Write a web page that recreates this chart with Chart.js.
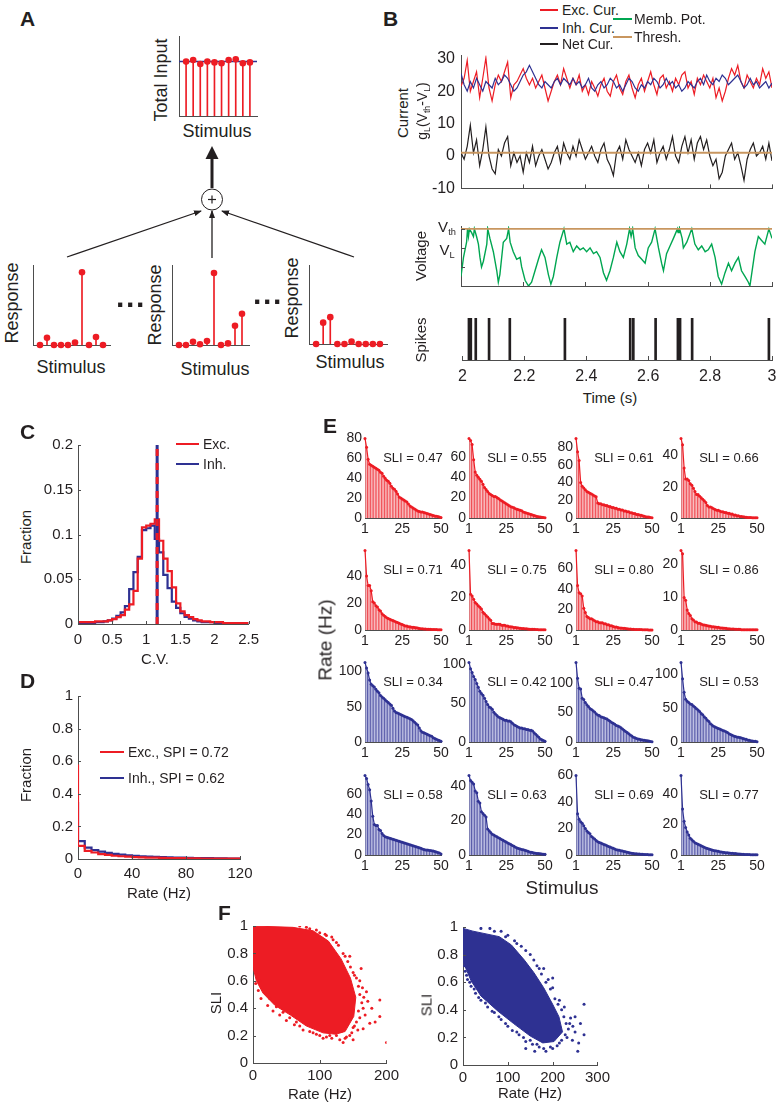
<!DOCTYPE html>
<html>
<head>
<meta charset="utf-8">
<script src="https://cdn.jsdelivr.net/npm/chart.js@4"></script>
<style>
  body { margin: 0; background: #fff; }
  #fig { position: relative; width: 779px; height: 1106px; overflow: hidden;
         font-family: "Liberation Sans", Arial, Helvetica, sans-serif; color: #231f20; }
  .t { position: absolute; white-space: nowrap; line-height: 1; }
  .t sub { font-size: 62%; vertical-align: -0.35em; line-height: 0; }
  .sw { position: absolute; height: 0; }
  canvas { position: absolute; }
</style>
</head>
<body>
<div id="fig">
  <svg width="779" height="1106" style="position:absolute;left:0;top:0">
    <defs>
      <marker id="ah" markerWidth="8" markerHeight="8" refX="7" refY="4" orient="auto" markerUnits="userSpaceOnUse">
        <path d="M0,1 L8,4 L0,7 z" fill="#231f20"/>
      </marker>
    </defs>
    <line x1="67" y1="257" x2="201" y2="211" stroke="#231f20" stroke-width="1.3" marker-end="url(#ah)"/>
    <line x1="212" y1="258" x2="212" y2="211" stroke="#231f20" stroke-width="1.3" marker-end="url(#ah)"/>
    <line x1="354" y1="257" x2="222" y2="211" stroke="#231f20" stroke-width="1.3" marker-end="url(#ah)"/>
    <circle cx="212" cy="199.5" r="10.5" fill="#fff" stroke="#231f20" stroke-width="1"/>
    <line x1="208" y1="199.5" x2="216" y2="199.5" stroke="#231f20" stroke-width="1.2"/>
    <line x1="212" y1="195.5" x2="212" y2="203.5" stroke="#231f20" stroke-width="1.2"/>
    <line x1="212" y1="188" x2="212" y2="157" stroke="#231f20" stroke-width="3"/>
    <polygon points="205.5,159 218.5,159 212,146" fill="#231f20"/>
  </svg>
</div>
<script>
// ---------- Panel A : stem plots ----------
const aStim = [1, 2, 3, 4, 5, 6, 7, 8, 9, 10];
const aTotal = [0.68, 0.70, 0.65, 0.68, 0.67, 0.66, 0.70, 0.71, 0.66, 0.67];
const aTotalMean = 0.68;
const aResp1 = [0, 0.09, 0, 0, 0, 0.03, 0.91, 0, 0.10, 0];
const aResp2 = [0, 0, 0.04, 0.01, 0.05, 0.90, 0, 0.02, 0.24, 0.39];
const aResp3 = [0, 0.27, 0.34, 0, 0, 0.03, 0, 0, 0, 0];

// ---------- Panel B : currents, voltage, spikes ----------
const bTime = Array.from({ length: 101 }, (_, i) => 2 + i * 0.01);
const bExc = [21.5,24,29.5,20,23,26,18,24,30.3,21, 17,22,25,23,26,29,18,22,23,25,
  27,24,22,24,21,23,25,21,17,20, 23,25,22,27,24,21,24,22,25,20,
  22,19,23,21,18.5,22,24,20,18.5,23, 25,21,19,23,25,21,18,22,24,20,
  23,26,22,19,24,25,21,23,20,24, 22,25,26,21,23,19,24,22,25,23,
  21,24,18,21,17,20,24,27,25,28, 23,21,25,23,21,24,22,27,24,26,21];
const bInh = [25.5,22,20,23,21,24,22,20,23,22, 21,24,22,23,25,24,22,20,21,23,
  25,26,28,26,24,22,21,23,22,21, 23,24,22,24,23,22,24,22,23,21,
  22,24,21,20,22,23,21,22,24,23, 21,22,20,22,24,23,21,20,22,21,
  23,22,24,23,21,22,24,22,23,21, 22,20,21,23,22,21,23,24,22,25,
  23,22,24,23,25,24,22,23,24,25, 23,21,22,24,22,23,21,22,23,21,22.5];
const bNet = [1,-1,3,9.5,1,5,-3,2,9,0, -4,-5.5,2,0,4,6,-3,1,-2,0,
  -5,1,-2,3,-3,0,2,-1,-4,-2, 1,3,-2,4,1,-1,3,0,5,2,
  -1,1,3,0,-2,2,4,-1,-3,-6, 1,3,-1,5,2,0,-2,1,-3,2,
  4,1,5,-2,1,3,-1,2,6,0, -2,3,6,1,5,-1,4,6,2,5,
  0,-3,-1,-7,-5,0,2,4,-1,1, -3,-7.5,-1,2,4,0,1,3,-1,4,-1.5];
const bThresh = 1;
const bCurTicks = [-10, 0, 10, 20, 30];
const bTimeTicks = [2, 2.2, 2.4, 2.6, 2.8, 3];
const vTime = [2.000,2.008,2.018,2.021,2.024,2.027,2.034,2.040,2.043,2.050,2.056,2.061,2.066,2.072,2.083,2.086,
  2.093,2.104,2.115,2.120,2.125,2.136,2.147,2.153,2.158,2.168,2.179,2.190,2.195,2.206,2.217,2.227,2.238,2.249,
  2.259,2.270,2.281,2.289,2.297,2.308,2.318,2.331,2.340,2.350,2.361,2.372,2.383,2.393,2.404,2.415,2.426,2.436,
  2.447,2.458,2.468,2.479,2.490,2.501,2.511,2.522,2.533,2.542,2.547,2.552,2.560,2.570,2.581,2.592,2.602,2.613,
  2.624,2.635,2.645,2.651,2.661,2.672,2.683,2.696,2.698,2.700,2.702,2.703,2.711,2.715,2.726,2.742,2.752,2.763,
  2.774,2.785,2.795,2.806,2.817,2.827,2.838,2.849,2.860,2.870,2.881,2.892,2.902,2.913,2.924,2.929,2.945,2.956,
  2.966,2.977,2.990,3.000];
const vVolt = [-1.5,-0.5,0.3,1,0.6,1,0.8,0.6,1,0.6,0.2,-0.5,-1,-0.7,0.2,1,
  0.5,-0.2,-1.2,-1.8,-1.4,0.3,0.5,1,0.3,-0.2,-0.6,-0.5,-1,-1.7,-2,-1.8,-1.2,-0.6,
  -0.1,-0.5,-1.4,-1.9,-1.5,-0.5,0.3,1,0.2,0.3,-0.2,0.1,-0.1,0,-0.2,0,-0.3,-0.2,
  -0.5,-1.3,-1.7,-1.2,-0.5,0.3,-0.2,-0.5,0.2,1,0.6,1,0,-0.4,-0.6,-0.8,0,0.3,
  1,0,-0.8,-1.2,-0.3,0.1,0.5,1,0.8,1,0.8,1,0.5,0,0.3,1,0.2,-0.1,
  0.1,-0.2,-0.1,0.2,-0.5,-1.5,-1.9,-1.3,-0.8,-1.2,-0.8,-0.5,-1.2,-1.5,-1.8,-2,-0.2,0.6,
  0.4,0.2,1,0.5];
const vTicks = [-2, -1, 0, 1];
const spikeTimes = [2.021,2.027,2.043,2.086,2.153,2.331,2.542,2.552,2.624,2.696,2.700,2.703,2.742,2.990];

// ---------- Panel C : C.V. histograms ----------
const cvBinWidth = 0.0625;
const cvExc = [0.002,0.002,0.002,0.002,0.002,0.003,0.003,0.003,0.004,0.0054,
  0.0076,0.010,0.016,0.022,0.037,0.073,0.108,0.110,0.112,0.117,
  0.093,0.073,0.059,0.041,0.023,0.014,0.010,0.0076,0.0054,0.004,
  0.003,0.003,0.002,0.002,0.002,0.001,0.001,0.001,0.001,0.001];
const cvInh = [0.001,0.001,0.001,0.001,0.001,0.002,0.002,0.003,0.004,0.006,
  0.009,0.013,0.020,0.039,0.058,0.075,0.105,0.107,0.110,0.095,
  0.080,0.055,0.040,0.025,0.018,0.012,0.008,0.006,0.004,0.003,
  0.002,0.002,0.002,0.001,0.001,0.001,0.001,0.001,0.001,0.001];
const cvMean = 1.16;
const cvXTicks = [0, 0.5, 1, 1.5, 2, 2.5];
const cvYTicks = [0, 0.05, 0.1, 0.15, 0.2];

// ---------- Panel D : rate histograms ----------
const rateBinWidth = 5;
const rateExc = [0.58,0.08,0.05,0.04,0.03,0.025,0.02,0.017,0.014,0.012,0.010,0.009,
  0.008,0.007,0.006,0.005,0.005,0.004,0.004,0.003,0.003,0.003,0.002,0.002];
const rateInh = [0.35,0.11,0.07,0.055,0.045,0.038,0.032,0.027,0.023,0.020,0.017,0.015,
  0.013,0.011,0.010,0.009,0.008,0.007,0.006,0.005,0.005,0.004,0.004,0.003];
const rateXTicks = [0, 40, 80, 120];
const rateYTicks = [0, 0.2, 0.4, 0.6, 0.8, 1];

// ---------- Panel E : tuning curves (rate vs stimulus rank) ----------
const eStim = Array.from({ length: 50 }, (_, i) => i + 1);
const excR1 = [80,71,59,54,53,52,51,50,49,48,46,45,42,40,38,37,35,32,30,29,27,24,21,20,19,18,17,16,14,12,11,10,9,8,7,6.5,6,6,5.5,5,4.5,4,3.5,3,2.5,2,1.8,1.5,1,0.5];
const excR2 = [78,76,72,57,45,42,40,38,36,33,30,28,26,24,23,22,21,21,20,19,18,17,16,15,14,13,12,11,10.5,10,9,8.5,8,7.5,7,6,5.5,5,4.5,4,3.5,3,2.5,2,1.5,1.2,1,0.8,0.5,0.3];
const excR3 = [90,75,65,40,36,34,32,30,29,28,27,26,25,24,17,16,16,15,15,14,14,13,13,12,12,11,11,10,10,9,9,8,8,7,7,6,6,5,5,4,4,3.5,3,2.5,2,1.5,1.2,1,0.6,0.3];
const excR4 = [51,47,32,25,25,24,22,21,19,17,15,15,14,13,12,11,10,8,7,7,6.5,6,5.5,5,5,4.5,4,4,3.5,3.5,3,3,2.5,2.5,2,2,1.5,1.5,1,1,0.8,0.6,0.5,0.4,0.3,0.3,0.2,0.2,0.1,0.1];
const excR5 = [59,40,33,33,29,21,20,18,17,15,14,12,11,10,9,8.5,8,7.5,7,6.5,6,5.5,5,4.5,4,3.5,3,3,2.5,2.5,2,2,1.8,1.6,1.4,1.2,1,1,0.8,0.8,0.6,0.6,0.5,0.4,0.4,0.3,0.3,0.2,0.2,0.1];
const excR6 = [49,22,21,19,17,16,15,14,13,11,10,9,8,7,6,4,4,3.5,3.5,3.5,3.5,3,3,3,2.5,2.5,2,2,1.8,1.6,1.5,1.4,1.2,1.1,1,0.9,0.8,0.7,0.6,0.5,0.5,0.4,0.4,0.3,0.3,0.2,0.2,0.2,0.1,0.1];
const excR7 = [77,43,36,35,33,21,17,13,12,11,11,10,9,8,8,7,7,7,6,6,5,5,4,4,3.5,3,3,2.5,2,2,1.8,1.6,1.4,1.2,1,1,0.8,0.8,0.6,0.6,0.5,0.4,0.4,0.3,0.3,0.2,0.2,0.1,0.1,0.1];
const excR8 = [24,23,9.8,9,6,5,4.4,3.4,3,2.5,2.4,2,2,1.8,1.6,1.5,1.4,1.3,1.2,1.1,1,1,0.9,0.8,0.8,0.7,0.6,0.6,0.5,0.5,0.4,0.4,0.3,0.3,0.3,0.2,0.2,0.2,0.2,0.1,0.1,0.1,0.1,0.1,0.1,0.05,0.05,0.05,0.05,0.05];
const inhR1 = [113,105,98,88,82,80,78,75,72,70,66,64,62,60,58,56,54,52,48,44,42,41,40,39,38,37,36,35,34,33,32,30,28,26,24,20,16,14,13,12,11,10,9,8,6,5,4,3,2,1];
const inhR2 = [102,94,89,84,80,75,70,65,62,60,56,52,48,45,44,42,38,36,34,32,31,30,29,28,28,27,27,26,24,22,21,20,19,18,18,17,17,16,16,15,15,14,12,10,8,6,4,3,2,1];
const inhR3 = [135,108,91,90,74,72,67,63,60,57,55,53,51,48,46,45,43,42,41,40,39,37,35,33,32,30,28,27,26,24,22,20,18,16,14,12,10,8,7,6,5,4.5,4,3.5,3,2.5,2,1.5,1,0.5];
const inhR4 = [117,93,73,63,60,58,56,55,53,51,49,47,45,42,40,37,35,32,30,27,25,23,22,21,20,19,18,17,16,15,14,12,11,10,9,8,7.5,7,6.5,6,5,4.5,4,3,2.5,2,1.5,1,1,0.5];
const inhR5 = [78,75,69,64,53,38,30,29,29,25,24,21,19,18,17.5,17,16.5,16,15.5,15,14.5,14,13.5,13,12.5,12,11.5,11,10.5,10,9.5,9,8.5,8,7.5,7,6.5,6,5.5,5,4.8,4.6,4.4,4.2,4,3.5,3,2.5,2,1];
const inhR6 = [46,43,42,41,37,36,31,30,25,24,23,22,15,14,13,12,11.5,11,10.5,10,9.5,9,8.5,8,7.5,7,6.5,6,5.5,5,4.5,4,3.8,3.5,3.2,3,2.7,2.4,2.1,1.8,1.6,1.4,1.2,1,0.9,0.8,0.7,0.6,0.5,0.4];
const inhR7 = [60,31,27,25,24,22,20,18,17,16,14,13,12,11,10,9.5,9,8.5,8,7.5,7,6.5,6,5.5,5,4.5,4,3.8,3.5,3.2,3,2.7,2.4,2.1,1.8,1.6,1.4,1.2,1,0.9,0.8,0.7,0.6,0.5,0.4,0.3,0.3,0.2,0.2,0.1];
const inhR8 = [52,30,22,18,15,13,11,10,9,8,7.5,7,6.5,6,5.5,5,4.6,4.2,3.9,3.6,3.3,3,2.8,2.6,2.4,2.2,2,1.8,1.6,1.5,1.4,1.3,1.2,1.1,1,0.9,0.8,0.7,0.6,0.5,0.5,0.4,0.4,0.3,0.3,0.2,0.2,0.2,0.1,0.1];
const excSLI = ['0.47', '0.55', '0.61', '0.66', '0.71', '0.75', '0.80', '0.86'];
const inhSLI = ['0.34', '0.42', '0.47', '0.53', '0.58', '0.63', '0.69', '0.77'];
const excYTicks = [[0,20,40,60,80], [0,20,40,60], [0,20,40,60,80], [0,20,40], [0,20,40], [0,20,40], [0,20,40,60], [0,10,20]];
const inhYTicks = [[0,50,100], [0,50,100], [0,50,100], [0,50,100], [0,20,40,60], [0,20,40], [0,20,40,60], [0,20,40]];
const eXTicks = [1, 25, 50];

// ---------- Panel F : SLI vs rate ----------
const fExcCloudRate = [0, 60, 90, 113, 132, 146, 154, 151, 138, 124, 105, 80, 56, 33, 15, 5, 0];
const fExcCloudSLI  = [1.0, 0.99, 0.965, 0.89, 0.76, 0.62, 0.48, 0.34, 0.23, 0.21, 0.22, 0.27, 0.35, 0.42, 0.51, 0.6, 0.7];
const fExcDotRate = [120,128,135,142,146,150,155,158,162,160,163,165,158,155,150,148,140,135,130,118,110,100,90,75,62,50,40,30,22,12,8,4,
  172,175,190,190,200,157,168,170,145,100,110,85,132,125,145,
  5,10,18,25,35,45,55,65,70,85,95,105,115,125,138,152,160,164,166,160,152,145,138,70,80,95,108,118,178,183,165,150];
const fExcDotSLI  = [0.9,0.86,0.8,0.74,0.7,0.66,0.62,0.56,0.69,0.5,0.44,0.4,0.38,0.3,0.26,0.22,0.19,0.15,0.17,0.18,0.19,0.2,0.22,0.24,0.28,0.31,0.35,0.38,0.42,0.47,0.53,0.58,
  0.45,0.29,0.46,0.34,0.15,0.24,0.35,0.52,0.78,0.95,0.93,0.98,0.23,0.2,0.32,
  0.66,0.6,0.52,0.47,0.41,0.37,0.33,0.3,0.27,0.23,0.21,0.18,0.2,0.88,0.78,0.64,0.6,0.55,0.48,0.33,0.27,0.2,0.18,1.0,0.99,0.97,0.94,0.92,0.4,0.3,0.25,0.17];
const fInhCloudRate = [0, 22, 81, 108, 137, 158, 180, 200, 214, 222, 203, 178, 150, 113, 78, 40, 18, 0];
const fInhCloudSLI  = [0.99, 0.97, 0.93, 0.87, 0.76, 0.67, 0.56, 0.44, 0.35, 0.24, 0.17, 0.16, 0.21, 0.3, 0.39, 0.5, 0.61, 0.75];
const fInhDotRate = [130,115,100,85,60,150,165,175,185,195,205,212,220,225,230,235,228,220,210,195,180,165,150,135,120,100,85,70,55,40,28,18,10,5,270,270,256,244,240,250,200,180,160,140,
  10,40,70,95,120,140,158,170,190,200,215,226,238,232,215,200,185,170,155,140,125,110,95,80,65,50,35,25,15,8,3,245,250,258,262];
const fInhDotSLI  = [0.86,0.9,0.94,0.97,0.99,0.8,0.72,0.66,0.6,0.55,0.48,0.44,0.4,0.35,0.3,0.26,0.22,0.18,0.14,0.13,0.12,0.15,0.18,0.2,0.24,0.28,0.33,0.38,0.42,0.47,0.52,0.57,0.62,0.68,0.44,0.22,0.1,0.18,0.34,0.24,0.63,0.7,0.1,0.12,
  0.97,0.99,0.97,0.93,0.88,0.83,0.76,0.7,0.62,0.56,0.47,0.42,0.3,0.2,0.16,0.12,0.1,0.13,0.15,0.17,0.22,0.25,0.3,0.35,0.39,0.45,0.49,0.55,0.6,0.65,0.72,0.28,0.35,0.16,0.3];
const fSliTicks = [0, 0.2, 0.4, 0.6, 0.8, 1];
const fExcRateTicks = [0, 100, 200];
const fInhRateTicks = [0, 100, 200, 300];

// ---------- drawing ----------
const FONT = '"Liberation Sans", Arial, Helvetica, sans-serif';
const RED = '#ed1c24', BLUE = '#2e3192', GREEN = '#00a651', BROWN = '#c8965f', BLACK = '#231f20', AX = '#4d4d4d';
Chart.defaults.font.family = FONT;
Chart.defaults.color = BLACK;

const fig = document.getElementById('fig');

// small inward tick marks, MATLAB style
Chart.register({
  id: 'innerTicks',
  afterDatasetsDraw(chart, args, opts) {
    if (!opts || !opts.len) return;
    const ctx = chart.ctx, a = chart.chartArea;
    ctx.save();
    ctx.strokeStyle = AX;
    ctx.lineWidth = 1;
    ['x', 'y'].forEach(id => {
      if (opts.only && opts.only !== id) return;
      const s = chart.scales[id];
      s.ticks.forEach(t => {
        const p = Math.round(s.getPixelForValue(t.value)) + 0.5;
        ctx.beginPath();
        if (id === 'x') { ctx.moveTo(p, a.bottom); ctx.lineTo(p, a.bottom - opts.len); }
        else { ctx.moveTo(a.left, p); ctx.lineTo(a.left + opts.len, p); }
        ctx.stroke();
      });
    });
    ctx.restore();
  }
});

function text(html, x, y, size, o = {}) {
  const d = document.createElement('div');
  d.className = 't';
  d.innerHTML = html;
  d.style.left = x + 'px';
  d.style.top = y + 'px';
  d.style.fontSize = size + 'px';
  if (o.bold) d.style.fontWeight = 'bold';
  let tf = o.left ? 'translate(0,-50%)' : 'translate(-50%,-50%)';
  if (o.rot) tf += ' rotate(-90deg)';
  d.style.transform = tf;
  fig.appendChild(d);
}

function swatch(x1, x2, y, color, w) {
  const d = document.createElement('div');
  d.className = 'sw';
  d.style.cssText = `left:${x1}px;top:${y - w / 2}px;width:${x2 - x1}px;border-top:${w}px solid ${color}`;
  fig.appendChild(d);
}

function axis(min, max, ticks, o = {}) {
  return {
    type: 'linear', min, max, offset: false,
    afterBuildTicks: s => { s.ticks = ticks.map(v => ({ value: v })); },
    grid: { display: false, drawTicks: false, offset: false },
    border: { display: o.border !== false, color: AX, width: 1 },
    ticks: {
      display: !!o.labels, autoSkip: false, maxRotation: 0,
      font: { family: FONT, size: o.size || 14 }, color: BLACK, padding: o.pad ?? 3,
      callback: v => String(Math.round(v * 1000) / 1000)
    }
  };
}

// area = plot box in figure pixels, pad = room around it for ticks
function plot(area, pad, cfg) {
  const w = area.r - area.l + pad.l + pad.r;
  const h = area.b - area.t + pad.t + pad.b;
  const cv = document.createElement('canvas');
  cv.width = w; cv.height = h;
  cv.style.left = (area.l - pad.l) + 'px';
  cv.style.top = (area.t - pad.t) + 'px';
  cv.style.width = w + 'px';
  cv.style.height = h + 'px';
  fig.appendChild(cv);
  const o = cfg.options;
  o.responsive = false;
  o.animation = false;
  o.devicePixelRatio = 1;
  o.layout = { padding: { top: pad.t, right: pad.r, left: 0, bottom: 0 } };
  o.plugins = Object.assign({ legend: { display: false }, tooltip: { enabled: false } }, o.plugins || {});
  o.scales.x.afterFit = s => { s.height = pad.b; };
  o.scales.y.afterFit = s => { s.width = pad.l; };
  return new Chart(cv, cfg);
}

const pts = (xs, ys) => ys.map((v, i) => ({ x: xs[i], y: v }));
const steps = (w, vals) => vals.map((v, i) => ({ x: i * w, y: v })).concat([{ x: vals.length * w, y: vals[vals.length - 1] }]);

// ---- A ----
function stems(area, vals, r, extra) {
  const ds = [
    { type: 'bar', data: pts(aStim, vals), backgroundColor: RED, barThickness: 1, order: 3 },
    { type: 'line', data: pts(aStim, vals), showLine: false, pointRadius: r, pointBackgroundColor: RED,
      pointBorderWidth: 0, clip: false, order: 1 }
  ];
  if (extra) ds.push(extra);
  plot(area, { l: 2, t: 8, r: 8, b: 2 }, {
    type: 'bar', data: { datasets: ds },
    options: { scales: { x: axis(0, 11, [0]), y: axis(0, 1, [0]) } }
  });
}
stems({ l: 177, t: 36, r: 257, b: 118 }, aTotal, 3.3,
  { type: 'line', data: [{ x: 0, y: aTotalMean }, { x: 11, y: aTotalMean }], borderColor: BLUE,
    borderWidth: 1.5, pointRadius: 0, order: 2 });
stems({ l: 31, t: 265, r: 110, b: 347 }, aResp1, 3.3);
stems({ l: 170, t: 265, r: 249, b: 347 }, aResp2, 3.3);
stems({ l: 307, t: 265, r: 387, b: 346 }, aResp3, 3.3);

text('A', 20, 18, 21, { bold: true, left: true });
text('Total Input', 161, 80, 18, { rot: true });
text('Stimulus', 217, 131, 18);
text('Response', 12, 303, 18, { rot: true });
text('Response', 155, 305, 18, { rot: true });
text('Response', 292, 298, 18, { rot: true });
text('Stimulus', 71, 367, 18);
text('Stimulus', 215, 369, 18);
text('Stimulus', 350, 362, 18);
text('&middot;&middot;&middot;', 131, 305, 30, { bold: true });
text('&middot;&middot;&middot;', 268, 302, 30, { bold: true });

// ---- B ----
const tAxis = o => axis(2, 3, bTimeTicks, o);
plot({ l: 461, t: 50, r: 772, b: 200 }, { l: 40, t: 10, r: 8, b: 4 }, {
  type: 'line',
  data: { datasets: [
    { data: [{ x: 2, y: bThresh }, { x: 3, y: bThresh }], borderColor: BROWN, borderWidth: 1.8, pointRadius: 0 },
    { data: pts(bTime, bNet), borderColor: BLACK, borderWidth: 1.2, pointRadius: 0 },
    { data: pts(bTime, bInh), borderColor: BLUE, borderWidth: 1.2, pointRadius: 0 },
    { data: pts(bTime, bExc), borderColor: RED, borderWidth: 1.2, pointRadius: 0 }
  ] },
  options: {
    scales: { x: tAxis({}), y: axis(-10, 31, bCurTicks, { labels: true, size: 16, pad: 6 }) },
    plugins: { innerTicks: { len: 4, only: 'x' } }
  }
});
plot({ l: 461, t: 226, r: 772, b: 286 }, { l: 10, t: 4, r: 8, b: 4 }, {
  type: 'line',
  data: { datasets: [
    { data: [{ x: 2, y: 1 }, { x: 3, y: 1 }], borderColor: BROWN, borderWidth: 1.8, pointRadius: 0 },
    { data: pts(vTime, vVolt), borderColor: GREEN, borderWidth: 1.4, pointRadius: 0 }
  ] },
  options: {
    scales: { x: tAxis({}), y: axis(-2, 1.15, vTicks) },
    plugins: { innerTicks: { len: 4 } }
  }
});
plot({ l: 461, t: 318, r: 772, b: 360 }, { l: 10, t: 4, r: 14, b: 26 }, {
  type: 'bar',
  data: { datasets: [
    { data: spikeTimes.map(t => ({ x: t, y: 1 })), backgroundColor: BLACK, barThickness: 2 }
  ] },
  options: {
    scales: { x: tAxis({ labels: true, size: 16, pad: 7 }), y: Object.assign(axis(0, 1, [0]), { border: { display: false } }) },
    plugins: { innerTicks: { len: 4, only: 'x' } }
  }
});
text('B', 383, 18, 21, { bold: true, left: true });
swatch(540, 558, 10, RED, 2);   text('Exc. Cur.', 562, 10, 14, { left: true });
swatch(540, 558, 28, BLUE, 2);  text('Inh. Cur.', 562, 28, 14, { left: true });
swatch(540, 558, 44, BLACK, 2); text('Net Cur.', 562, 44, 14, { left: true });
swatch(613, 632, 19, GREEN, 2); text('Memb. Pot.', 634, 19, 14, { left: true });
swatch(613, 632, 37, BROWN, 2); text('Thresh.', 634, 37, 14, { left: true });
text('Current', 402, 113, 15, { rot: true });
text('g<sub>L</sub>(V<sub>th</sub>-V<sub>L</sub>)', 422, 111, 14, { rot: true });
text('Voltage', 420, 256, 15, { rot: true });
text('V<sub>th</sub>', 447, 226, 15);
text('V<sub>L</sub>', 447, 249, 15);
text('Spikes', 420, 340, 15, { rot: true });
text('Time (s)', 610, 397, 15);

// ---- C ----
plot({ l: 78, t: 441, r: 250, b: 624 }, { l: 44, t: 10, r: 16, b: 26 }, {
  type: 'line',
  data: { datasets: [
    { data: [{ x: cvMean, y: 0 }, { x: cvMean, y: 0.2 }], borderColor: RED, borderWidth: 3, pointRadius: 0,
      borderDash: [7, 7] },
    { data: [{ x: cvMean, y: 0 }, { x: cvMean, y: 0.2 }], borderColor: BLUE, borderWidth: 3, pointRadius: 0 },
    { data: steps(cvBinWidth, cvExc), stepped: 'after', borderColor: RED, borderWidth: 2.2, pointRadius: 0 },
    { data: steps(cvBinWidth, cvInh), stepped: 'after', borderColor: BLUE, borderWidth: 2.2, pointRadius: 0 }
  ] },
  options: {
    scales: { x: axis(0, 2.5, cvXTicks, { labels: true, size: 15, pad: 7 }), y: axis(0, 0.2, cvYTicks, { labels: true, size: 15, pad: 5 }) },
    plugins: { innerTicks: { len: 3 } }
  }
});
text('C', 20, 431, 21, { bold: true, left: true });
swatch(176, 199, 444, RED, 2.5);  text('Exc.', 203, 444, 14, { left: true });
swatch(176, 199, 464, BLUE, 2.5); text('Inh.', 203, 464, 14, { left: true });
text('Fraction', 25, 537, 15, { rot: true });
text('C.V.', 155, 658, 15);

// ---- D ----
plot({ l: 78, t: 692, r: 240, b: 859 }, { l: 44, t: 10, r: 20, b: 26 }, {
  type: 'line',
  data: { datasets: [
    { data: steps(rateBinWidth, rateExc), stepped: 'after', borderColor: RED, borderWidth: 2.2, pointRadius: 0 },
    { data: steps(rateBinWidth, rateInh), stepped: 'after', borderColor: BLUE, borderWidth: 2.2, pointRadius: 0 }
  ] },
  options: {
    scales: { x: axis(0, 120, rateXTicks, { labels: true, size: 15, pad: 6 }), y: axis(0, 1, rateYTicks, { labels: true, size: 15, pad: 5 }) },
    plugins: { innerTicks: { len: 3 } }
  }
});
text('D', 20, 680, 21, { bold: true, left: true });
swatch(100, 124, 752, RED, 2.5);  text('Exc., SPI = 0.72', 128, 752, 14, { left: true });
swatch(100, 124, 778, BLUE, 2.5); text('Inh., SPI = 0.62', 128, 778, 14, { left: true });
text('Fraction', 25, 775, 15, { rot: true });
text('Rate (Hz)', 159, 892, 15);

// ---- E ----
const eCols = [365, 469, 576, 681];
const eRows = [518, 630, 742, 855];
const excSets = [excR1, excR2, excR3, excR4, excR5, excR6, excR7, excR8];
const inhSets = [inhR1, inhR2, inhR3, inhR4, inhR5, inhR6, inhR7, inhR8];
function tuning(k, vals, yTicks, sli, line, fill) {
  const col = k % 4, row = Math.floor(k / 4);
  const l = eCols[col], b = eRows[row];
  plot({ l, t: b - 81, r: l + 76, b }, { l: 30, t: 10, r: 12, b: 20 }, {
    type: 'bar',
    data: { datasets: [
      { type: 'bar', data: pts(eStim, vals), backgroundColor: fill, borderColor: line,
        borderWidth: { left: 0.7, right: 0, top: 0, bottom: 0 }, borderSkipped: false,
        barPercentage: 1, categoryPercentage: 1, order: 2 },
      { type: 'line', data: pts(eStim, vals), borderColor: line, borderWidth: 1.2, pointRadius: 1.5,
        pointBackgroundColor: line, pointBorderWidth: 0, clip: false, order: 1 }
    ] },
    options: {
      scales: {
        x: axis(1, 50, eXTicks, { labels: true, size: 14, pad: 3 }),
        y: axis(0, Math.max(...vals), yTicks, { labels: true, size: 14, pad: 3 })
      }
    }
  });
  text('SLI = ' + sli, l + 48, b - 61, 13);
}
excSets.forEach((v, k) => tuning(k, v, excYTicks[k], excSLI[k], RED, '#f9c4c6'));
inhSets.forEach((v, k) => tuning(k + 8, v, inhYTicks[k], inhSLI[k], BLUE, '#c3c5e6'));
text('E', 323, 425, 21, { bold: true, left: true });
text('Rate (Hz)', 325, 640, 19, { rot: true });
text('Stimulus', 562, 887, 19);

// ---- F ----
function cloud(area, cr, cs, dr, ds, color, xMax, xTicks) {
  plot(area, { l: 32, t: 10, r: 16, b: 22 }, {
    type: 'scatter',
    data: { datasets: [
      { data: pts(dr, ds), pointRadius: 1.5, pointBackgroundColor: color, pointBorderWidth: 0 },
      { data: pts(cr, cs), showLine: true, fill: 'shape', backgroundColor: color, borderColor: color,
        borderWidth: 1, pointRadius: 0 }
    ] },
    options: {
      scales: {
        x: axis(0, xMax, xTicks, { labels: true, size: 15, pad: 4 }),
        y: axis(0, 1, fSliTicks, { labels: true, size: 15, pad: 5 })
      },
      plugins: { innerTicks: { len: 3 } }
    }
  });
}
cloud({ l: 253, t: 922, r: 387, b: 1063 }, fExcCloudRate, fExcCloudSLI, fExcDotRate, fExcDotSLI, RED, 200, fExcRateTicks);
cloud({ l: 463, t: 923, r: 598, b: 1065 }, fInhCloudRate, fInhCloudSLI, fInhDotRate, fInhDotSLI, BLUE, 300, fInhRateTicks);
text('F', 218, 912, 21, { bold: true, left: true });
text('SLI', 215, 1003, 15, { rot: true });
text('SLI', 426, 1005, 15, { rot: true });
text('Rate (Hz)', 320, 1093, 15);
text('Rate (Hz)', 530, 1092, 15);
</script>
</body>
</html>
